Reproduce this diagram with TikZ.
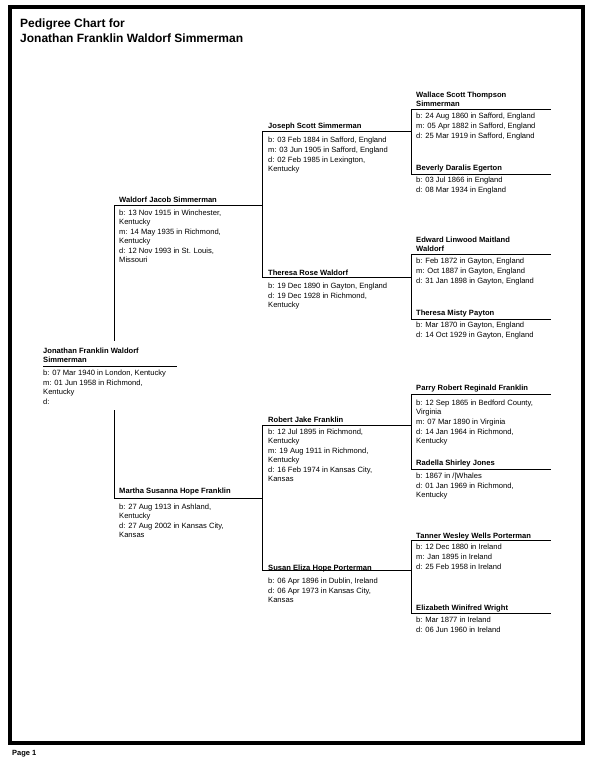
\documentclass[tikz,border=0pt]{standalone}
\usepackage{fontspec}
\setmainfont{Liberation Sans}
\begin{document}
\begin{tikzpicture}[x=1pt,y=-1pt,
    nm/.style={anchor=north west,inner sep=0pt,align=left,font=\fontsize{7.6}{9}\selectfont\bfseries},
    dat/.style={anchor=north west,inner sep=0pt,align=left,font=\fontsize{7.6}{9}\selectfont},
    ln/.style={line width=0.9pt}]
    \useasboundingbox (0,0) rectangle (592,762);

    % Marco y titulo
    \draw[line width=4pt] (10,7) rectangle (583,743);
    \node[anchor=north west,inner sep=0pt,align=left,font=\fontsize{12}{15}\selectfont\bfseries] (title) at (20,19)
        {Pedigree Chart for\\Jonathan Franklin Waldorf Simmerman};
    \node[anchor=north west,inner sep=0pt,font=\fontsize{7.5}{9}\selectfont\bfseries] (page) at (12,750) {Page 1};

    % Puntos de inicio de cada linea
    \coordinate (jonathan) at (43,366);
    \coordinate (waldorf) at (114,205);
    \coordinate (martha) at (114,498.3);
    \coordinate (joseph) at (262,131.7);
    \coordinate (theresa) at (262,277.7);
    \coordinate (robert) at (262,425.7);
    \coordinate (susan) at (262,570.7);
    \coordinate (wallace) at (411,109);
    \coordinate (beverly) at (411,174.3);
    \coordinate (edward) at (411,254);
    \coordinate (misty) at (411,319.3);
    \coordinate (parry) at (411,394);
    \coordinate (radella) at (411,469.3);
    \coordinate (tanner) at (411,540.7);
    \coordinate (elizabeth) at (411,613.3);
    \coordinate (jtop) at (114,341);
    \coordinate (jbot) at (114,410);

    % Lineas horizontales
    \draw[ln] (jonathan) -- ++(134,0);
    \foreach \p in {waldorf,martha} \draw[ln] (\p) -- ++(148,0);
    \foreach \p in {joseph,theresa,robert,susan} \draw[ln] (\p) -- ++(149,0);
    \foreach \p in {wallace,beverly,edward,misty,parry,radella,tanner,elizabeth} \draw[ln] (\p) -- ++(140,0);

    % Lineas verticales
    \draw[ln] (waldorf) -- (jtop);
    \draw[ln] (jbot) -- (martha);
    \draw[ln] (joseph) -- (theresa);
    \draw[ln] (robert) -- (susan);
    \draw[ln] (wallace) -- (beverly);
    \draw[ln] (edward) -- (misty);
    \draw[ln] (parry) -- (radella);
    \draw[ln] (tanner) -- (elizabeth);

    % Generacion 1
    \node[nm] (jonathanname) at (43,347.3) {Jonathan Franklin Waldorf\\Simmerman};
    \node[dat] (jonathandata) at (43,370) {b: 07 Mar 1940 in London, Kentucky\\[1pt]m: 01 Jun 1958 in Richmond,\\Kentucky\\[1pt]d:};

    % Generacion 2
    \node[nm] (waldorfname) at (119,196.3) {Waldorf Jacob Simmerman};
    \node[dat] (waldorfdata) at (119,209.6) {b: 13 Nov 1915 in Winchester,\\Kentucky\\[1pt]m: 14 May 1935 in Richmond,\\Kentucky\\[1pt]d: 12 Nov 1993 in St. Louis,\\Missouri};
    \node[nm] (marthaname) at (119,488) {Martha Susanna Hope Franklin};
    \node[dat] (marthadata) at (119,503.3) {b: 27 Aug 1913 in Ashland,\\Kentucky\\[1pt]d: 27 Aug 2002 in Kansas City,\\Kansas};

    % Generacion 3
    \node[nm] (josephname) at (268,123) {Joseph Scott Simmerman};
    \node[dat] (josephdata) at (268,136.3) {b: 03 Feb 1884 in Safford, England\\[1pt]m: 03 Jun 1905 in Safford, England\\[1pt]d: 02 Feb 1985 in Lexington,\\Kentucky};
    \node[nm] (theresaname) at (268,269.6) {Theresa Rose Waldorf};
    \node[dat] (theresadata) at (268,282.3) {b: 19 Dec 1890 in Gayton, England\\[1pt]d: 19 Dec 1928 in Richmond,\\Kentucky};
    \node[nm] (robertname) at (268,416.3) {Robert Jake Franklin};
    \node[dat] (robertdata) at (268,429) {b: 12 Jul 1895 in Richmond,\\Kentucky\\[1pt]m: 19 Aug 1911 in Richmond,\\Kentucky\\[1pt]d: 16 Feb 1974 in Kansas City,\\Kansas};
    \node[nm] (susanname) at (268,564.6) {Susan Eliza Hope Porterman};
    \node[dat] (susandata) at (268,577.3) {b: 06 Apr 1896 in Dublin, Ireland\\[1pt]d: 06 Apr 1973 in Kansas City,\\Kansas};

    % Generacion 4
    \node[nm] (wallacename) at (416,91.6) {Wallace Scott Thompson\\Simmerman};
    \node[dat] (wallacedata) at (416,113) {b: 24 Aug 1860 in Safford, England\\[1pt]m: 05 Apr 1882 in Safford, England\\[1pt]d: 25 Mar 1919 in Safford, England};
    \node[nm] (beverlyname) at (416,164.6) {Beverly Daralis Egerton};
    \node[dat] (beverlydata) at (416,176.6) {b: 03 Jul 1866 in England\\[1pt]d: 08 Mar 1934 in England};
    \node[nm] (edwardname) at (416,236.6) {Edward Linwood Maitland\\Waldorf};
    \node[dat] (edwarddata) at (416,258) {b: Feb 1872 in Gayton, England\\[1pt]m: Oct 1887 in Gayton, England\\[1pt]d: 31 Jan 1898 in Gayton, England};
    \node[nm] (mistyname) at (416,309.6) {Theresa Misty Payton};
    \node[dat] (mistydata) at (416,321.6) {b: Mar 1870 in Gayton, England\\[1pt]d: 14 Oct 1929 in Gayton, England};
    \node[nm] (parryname) at (416,384.6) {Parry Robert Reginald Franklin};
    \node[dat] (parrydata) at (416,399.6) {b: 12 Sep 1865 in Bedford County,\\Virginia\\[1pt]m: 07 Mar 1890 in Virginia\\[1pt]d: 14 Jan 1964 in Richmond,\\Kentucky};
    \node[nm] (radellaname) at (416,459.6) {Radella Shirley Jones};
    \node[dat] (radelladata) at (416,472.3) {b: 1867 in /|Whales\\[1pt]d: 01 Jan 1969 in Richmond,\\Kentucky};
    \node[nm] (tannername) at (416,532.3) {Tanner Wesley Wells Porterman};
    \node[dat] (tannerdata) at (416,544) {b: 12 Dec 1880 in Ireland\\[1pt]m: Jan 1895 in Ireland\\[1pt]d: 25 Feb 1958 in Ireland};
    \node[nm] (elizabethname) at (416,604.6) {Elizabeth Winifred Wright};
    \node[dat] (elizabethdata) at (416,616.6) {b: Mar 1877 in Ireland\\[1pt]d: 06 Jun 1960 in Ireland};
\end{tikzpicture}
\end{document}
